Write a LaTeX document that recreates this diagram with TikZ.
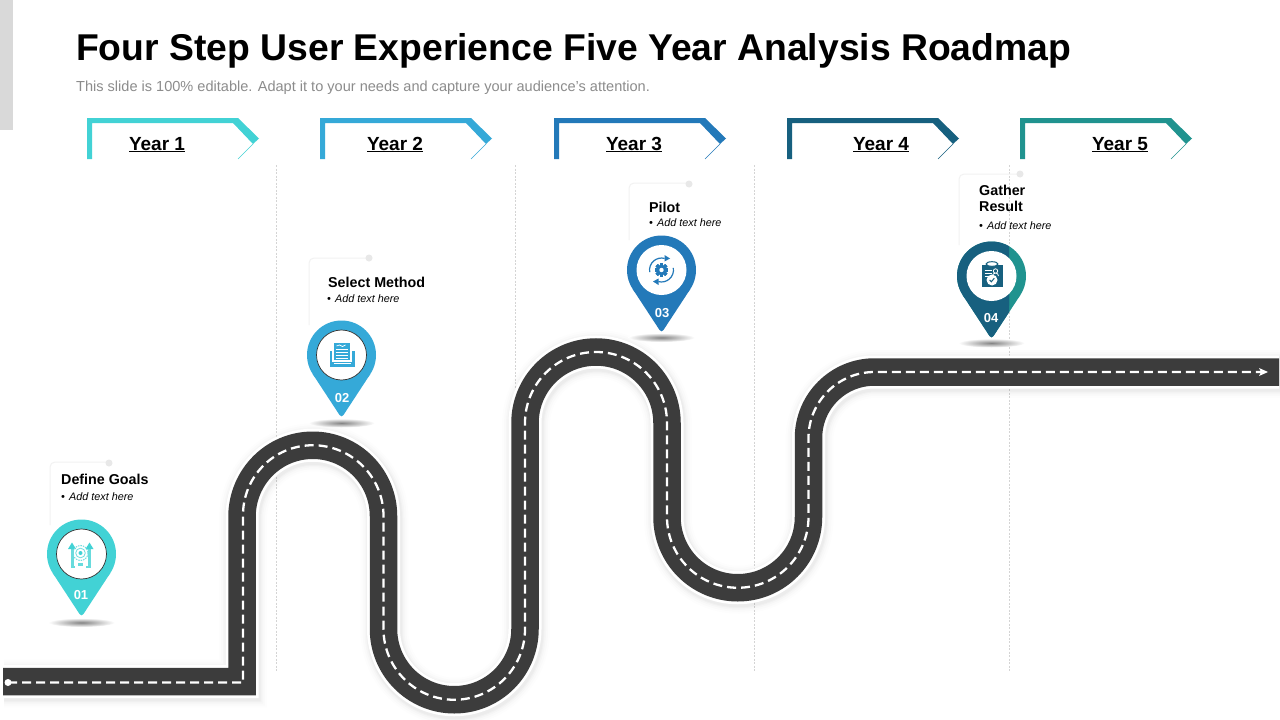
\documentclass[tikz,border=0pt]{standalone}
\usepackage{fontspec}
\setmainfont{Liberation Sans}
\definecolor{cteal}{HTML}{42D2D5}
\definecolor{csky}{HTML}{35A9D8}
\definecolor{cblue}{HTML}{2379B9}
\definecolor{cnavy}{HTML}{17607F}
\definecolor{cgreen}{HTML}{20938F}
\definecolor{croad}{HTML}{3C3C3C}
\definecolor{cgrey}{HTML}{8C8C8C}
\definecolor{cbar}{HTML}{D9D9D9}
\newcommand{\roadrest}{.. controls (242.5,476.93) and (273.68,445.25) .. (312.75,445.25) .. controls (351.82,445.25) and (383.5,476.93) .. (383.5,516) -- (383.5,629) .. controls (383.5,668.07) and (415.18,699.75) .. (454.25,699.75) .. controls (493.32,699.75) and (525,668.07) .. (525,629) -- (525,423) .. controls (525,383.79) and (556.79,352) .. (596,352) .. controls (635.21,352) and (667,383.79) .. (667,423) -- (667,517) .. controls (667,556.07) and (698.68,587.75) .. (737.75,587.75) .. controls (776.82,587.75) and (808.5,556.07) .. (808.5,517) -- (808.5,438) .. controls (808.5,401.55) and (838.05,372) .. (874.5,372)}
\newcommand{\roadpath}{(3,681.5) -- (242,681.5) -- (242,516) \roadrest -- (1279,372)}
\newcommand{\dashpath}{(8,682.5) -- (243,682.5) -- (243,516) \roadrest -- (1262,372)}
\tikzset{
  yearlabel/.style={font=\fontsize{19}{22}\selectfont\bfseries,text=black,inner sep=0pt,anchor=base},
  headtext/.style={font=\fontsize{14.3}{16}\selectfont\bfseries,text=black,inner sep=0pt,anchor=base west,align=left},
  bodytext/.style={font=\fontsize{10.8}{12}\selectfont\itshape,text=black,inner sep=0pt,anchor=base west},
  numtext/.style={font=\fontsize{13}{15}\selectfont\bfseries,text=white,inner sep=0pt},
  gridline/.style={draw=black!17,line width=0.7pt,dash pattern=on 2pt off 1.5pt},
  boxline/.style={draw=black!5,line width=1pt,rounded corners=5pt},
}
\newcommand{\banner}[2]{%
  \begin{scope}[shift={(#1,0)}]
    \fill[#2] (0,118) -- (151,118) -- (172,138.5) -- (166,144) -- (146,123) -- (5,123) -- (5,159) -- (0,159) -- cycle;
    \draw[#2,line width=0.6pt] (166,144) -- (151,159);
  \end{scope}}
\newcommand{\mapshape}[3]{%
  \fill[#3] (#1,#2) circle[radius=34.5];
  \begin{scope}[shift={(#1,#2)}]
    \fill[#3] (28.9,18.9) [rounded corners=3.5pt] -- (0,63) [sharp corners] -- (-28.9,18.9) -- (0,0) -- cycle;
  \end{scope}}
\newcommand{\pinshadow}[2]{%
  \shade[inner color=black!48,outer color=white] (#1,#2) ellipse[x radius=33,y radius=4.5];}
\newcommand{\gearshape}[3]{%
  \foreach \a in {0,45,...,315}{\fill[#3,rotate around={\a:(#1,#2)}] (#1-1.6,#2-6.8) rectangle (#1+1.6,#2+6.8);}
  \fill[#3] (#1,#2) circle[radius=5.2];
  \fill[white] (#1,#2) circle[radius=2.2];}
\begin{document}
\begin{tikzpicture}[x=1pt,y=-1pt]
\useasboundingbox (0,0) rectangle (1280,720);
\fill[white] (0,0) rectangle (1280,720);
\fill[cbar] (0,0) rectangle (13,130);
\node[inner sep=0pt,anchor=base west,font=\fontsize{37.3}{40}\selectfont\bfseries] (title) at (76,60.5) {Four Step User Experience Five Year Analysis Roadmap};
\node[inner sep=0pt,anchor=base west,text=cgrey,font=\fontsize{14.55}{16}\selectfont] (subtitle) at (76,91) {This slide is 100\% editable. Adapt it to your needs and capture your audience's attention.};
\banner{87}{cteal}\banner{320}{csky}\banner{554}{cblue}\banner{787}{cnavy}\banner{1020}{cgreen}
\node[yearlabel] (y1) at (157,150) {\underline{Year 1}};
\node[yearlabel] (y2) at (395,150) {\underline{Year 2}};
\node[yearlabel] (y3) at (634,150) {\underline{Year 3}};
\node[yearlabel] (y4) at (881,150) {\underline{Year 4}};
\node[yearlabel] (y5) at (1120,150) {\underline{Year 5}};
\foreach \x in {276,515,754,1009}{\draw[gridline] (\x,165) -- (\x,672);}
\foreach \w/\o in {48/.008,44/.01,40/.014,37/.018,35/.02}{
  \draw[black,opacity=\o,line width=\w pt,shift={(1,2)}] \roadpath;}
\draw[white,line width=33pt] \roadpath;
\draw[croad,line width=27.5pt] \roadpath;
\draw[white,line width=2.3pt,dash pattern=on 9pt off 5pt] \dashpath;
\fill[white] (8,682.5) circle[radius=3.5];
\fill[white] (1268,372) -- (1259,368) -- (1261,372) -- (1259,376) -- cycle;
\draw[boxline] (50,525) -- (50,462) -- (109,462);
\fill[black!9] (109,463) circle[radius=3.5];
\draw[boxline] (309,325) -- (309,258) -- (369,258);
\fill[black!9] (369,258) circle[radius=3.5];
\draw[boxline] (629,240) -- (629,183) -- (689,183);
\fill[black!9] (689,184) circle[radius=3.5];
\draw[boxline] (959,245) -- (959,174) -- (1020,174);
\fill[black!9] (1020,174) circle[radius=3.5];
\node[headtext] (t1) at (61,484.5) {Define Goals};
\node[bodytext] (b1) at (61,500) {\makebox[8pt][l]{•}Add text here};
\node[headtext] (t2) at (328,287.5) {Select Method};
\node[bodytext] (b2) at (327,302) {\makebox[8pt][l]{•}Add text here};
\node[headtext] (t3) at (649,212) {Pilot};
\node[bodytext] (b3) at (649,226) {\makebox[8pt][l]{•}Add text here};
\node[headtext] (t4a) at (979,195) {Gather};
\node[headtext] (t4b) at (979,211) {Result};
\node[bodytext] (b4) at (979,229) {\makebox[8pt][l]{•}Add text here};
\pinshadow{81.5}{622.5}\pinshadow{341.5}{423}\pinshadow{661.5}{337.5}\pinshadow{991.5}{343}
\mapshape{81.5}{554}{cteal}
\mapshape{341.5}{355}{csky}
\mapshape{661.5}{270}{cblue}
\mapshape{991.5}{276}{cgreen}
\begin{scope}
  \clip (950,230) rectangle (1009,350);
  \mapshape{991.5}{276}{cnavy}
\end{scope}
\fill[white,draw=black!80,line width=0.7pt] (81.5,554) circle[radius=25];
\fill[white,draw=black!80,line width=0.7pt] (341.5,355) circle[radius=25];
\fill[white] (661.5,270) circle[radius=25];
\fill[white] (991.5,276) circle[radius=25];
\node[numtext] (n1) at (81,595) {01};
\node[numtext] (n2) at (342,398) {02};
\node[numtext] (n3) at (662,313) {03};
\node[numtext] (n4) at (991,318) {04};
% icon 1
\begin{scope}[shift={(81,554)}]
  \fill[cteal!80] (-10.5,-6) rectangle (-7.5,13);
  \fill[cteal] (-13,-5) -- (-9,-11.5) -- (-5,-5) -- cycle;
  \fill[cteal!80] (7,-6) rectangle (10,13);
  \fill[cteal] (4.5,-5) -- (8.5,-11.5) -- (12.5,-5) -- cycle;
  \draw[cteal!75,line width=1pt,dash pattern=on 1.5pt off 1pt] (-0.5,-1) circle[radius=7.5];
  \draw[cteal!75,line width=0.8pt] (-0.5,-1) circle[radius=4.8];
  \fill[cteal] (-0.5,-1) circle[radius=2];
  \fill[cteal!80] (-3,8.5) rectangle (2,12);
  \fill[cteal!80] (-10,12) rectangle (-6,13.5);
  \fill[cteal!80] (5,12) rectangle (10,13.5);
\end{scope}
% icon 2
\begin{scope}[shift={(341.5,355)}]
  \fill[csky] (-12,-4) rectangle (13,12);
  \fill[white] (-9.5,-6) rectangle (10.5,6.5);
  \fill[csky] (-8,-12) rectangle (8,5);
  \draw[white,line width=0.8pt] (-6,-6) -- (6,-6) (-6,-3) -- (6,-3) (-6,0) -- (6,0) (-6,3) -- (6,3);
  \draw[white,line width=0.7pt] (-5,-9) -- (-2,-10) -- (1,-8.5) -- (4,-10);
  \draw[white,line width=0.8pt] (-8,8.5) -- (9,8.5);
\end{scope}
% icon 3
\begin{scope}[shift={(661.5,270)}]
  \draw[cblue,line width=1.2pt] (-11.8,2.1) arc[start angle=170,end angle=285,radius=12];
  \draw[cblue,line width=1.2pt] (11.8,-2.1) arc[start angle=-10,end angle=105,radius=12];
  \fill[cblue] (3,-15) -- (8.5,-11.5) -- (3,-8.5) -- cycle;
  \fill[cblue] (-3,15) -- (-8.5,11.5) -- (-3,8.5) -- cycle;
  \gearshape{0}{0}{cblue}
\end{scope}
% icon 4
\begin{scope}[shift={(991.5,276)}]
  \fill[cnavy] (-9.5,-11) rectangle (11,11);
  \draw[cnavy,line width=1pt,fill=white] (0.5,-12) ellipse[x radius=6,y radius=2.3];
  \draw[white,line width=0.8pt] (-7,-6) -- (0,-6) (-7,-3) -- (0,-3) (-7,0) -- (-2,0);
  \draw[white,line width=0.8pt] (4,-5) circle[radius=2.2] (1,0) arc[start angle=180,end angle=360,radius=3];
  \fill[white] (0.5,4) circle[radius=5.5];
  \draw[cnavy,line width=1pt] (-1.8,4) -- (-0.2,5.8) -- (2.8,2.2);
\end{scope}
\end{tikzpicture}
\end{document}
